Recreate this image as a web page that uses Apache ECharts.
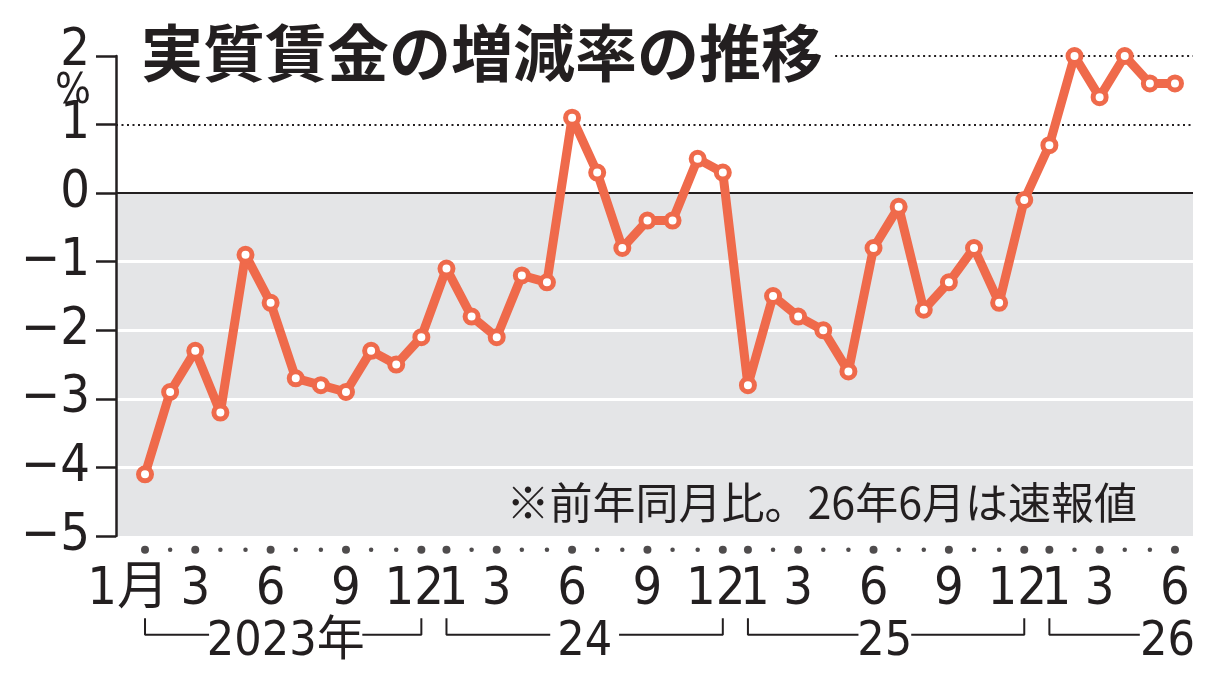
<!DOCTYPE html>
<html><head><meta charset="utf-8">
<script src="https://cdn.jsdelivr.net/npm/echarts@6/dist/echarts.min.js"></script>
<style>html,body{margin:0;padding:0;background:#fff}#c{width:1220px;height:680px}</style>
</head><body><div id="c"></div>
<script>
// ---- data ----
const monthLabels = ['1月','','3','','','6','','','9','','','12',
                     '1','','3','','','6','','','9','','','12',
                     '1','','3','','','6','','','9','','','12',
                     '1','','3','','','6'];
const values = [-4.1,-2.9,-2.3,-3.2,-0.9,-1.6,-2.7,-2.8,-2.9,-2.3,-2.5,-2.1,
                -1.1,-1.8,-2.1,-1.2,-1.3, 1.1, 0.3,-0.8,-0.4,-0.4, 0.5, 0.3,
                -2.8,-1.5,-1.8,-2.0,-2.6,-0.8,-0.2,-1.7,-1.3,-0.8,-1.6,-0.1,
                 0.7, 2.0, 1.4, 2.0, 1.6, 1.6];
const yearLabels = ['2023年','24','25','26'];
const yearStart = [0,12,24,36];
const yearEnd = [11,23,35,41];
const yearLabelX = [5.6,17.5,29.45,40.7];
const yearGapHalf = [3.05,1.37,1.05,1.1];
const titleText = '実質賃金の増減率の推移';
const noteText = '※前年同月比。26年6月は速報値';
const unitText = '%';

// ---- styling ----
const NUM_FONT = '"Liberation Sans Narrow","DejaVu Sans Condensed",Roboto,"Noto Sans CJK JP",sans-serif';
const INK = '#231F20';
const ORANGE = '#EF6A4B';
const X_MIN = -1.155, X_MAX = 41.717;
const Y_DOT = -5.2, Y_BR_TOP = -6.2, Y_BR = -6.44, Y_YEAR = -6.56;

const numStyle = {fontFamily: NUM_FONT, fontSize: 52, color: INK};

const lineData = values.map((v,i)=>[i,v]);
const labeledIdx = monthLabels.map((l,i)=> l ? i : -1).filter(i=>i>=0);
const dotData = monthLabels.map((l,i)=>({value:[i,Y_DOT], symbolSize: l ? 8 : 4.5}));

const bracketSeries = [];
yearLabels.forEach((y,k)=>{
  const s=yearStart[k], e=yearEnd[k], c=yearLabelX[k], h=yearGapHalf[k];
  const segs = [[[s,Y_BR_TOP],[s,Y_BR],[c-h,Y_BR]]];
  if (c+h < e) segs.push([[c+h,Y_BR],[e,Y_BR],[e,Y_BR_TOP]]);
  segs.forEach(seg=>bracketSeries.push({
    type:'line', data:seg, clip:false, symbol:'none', silent:true, z:3,
    lineStyle:{color:INK, width:2}
  }));
});

const chart = echarts.init(document.getElementById('c'));
chart.setOption({
  animation:false,
  backgroundColor:'#fff',
  title:[
    {text:titleText, left:136, top:17,
     textStyle:{fontFamily:'"Noto Sans CJK JP"', fontWeight:'bold', fontSize:62, color:INK}},
    {text:noteText, right:78, top:476,
     textStyle:{fontFamily:'"Noto Sans CJK JP"', fontWeight:'normal', fontSize:43, color:INK}}
  ],
  graphic:[
    {type:'text', right:1220-91, top:71, z:10,
     style:{text:unitText, fontFamily:NUM_FONT, fontSize:42, fill:INK}}
  ],
  grid:{left:116, right:27, top:56, bottom:144, containLabel:false, outerBoundsMode:'none'},
  xAxis:{
    type:'value', min:X_MIN, max:X_MAX,
    axisLine:{show:false}, axisTick:{show:false}, splitLine:{show:false},
    axisLabel:{
      customValues: labeledIdx, margin:28, ...numStyle,
      formatter: v => {
        const t = monthLabels[Math.round(v)];
        if (t === '1月') return '{a|1月}';
        if (t === '12') return '{l|12}';
        if (t === '1') return '{r|1}';
        return t;
      },
      rich:{
        a:{...numStyle, padding:[0,34,0,0]},
        l:{...numStyle, padding:[0,14,0,0]},
        r:{...numStyle, padding:[0,0,0,14]}
      }
    }
  },
  yAxis:{
    type:'value', min:-5, max:2, interval:1, z:6,
    axisLine:{show:true, onZero:false, lineStyle:{color:INK, width:2.5}},
    axisTick:{show:true, length:20, lineStyle:{color:INK, width:2.5}},
    splitLine:{show:false},
    axisLabel:{
      margin:26, ...numStyle,
      formatter: v => {
        if (v === 2) return '{t|2}';
        return v < 0 ? '\u2212' + Math.abs(v) : String(v);
      },
      rich:{t:{...numStyle, padding:[0,0,10,0]}}
    }
  },
  series:[
    {
      type:'line', data:[], z:1, silent:true,
      markArea:{silent:true, itemStyle:{color:'#E4E5E7'}, data:[[{yAxis:0},{yAxis:-5}]]},
      markLine:{
        silent:true, symbol:['none','none'], label:{show:false},
        data:[
          {yAxis:-1, lineStyle:{color:'#fff', width:3, type:'solid'}},
          {yAxis:-2, lineStyle:{color:'#fff', width:3, type:'solid'}},
          {yAxis:-3, lineStyle:{color:'#fff', width:3, type:'solid'}},
          {yAxis:-4, lineStyle:{color:'#fff', width:3, type:'solid'}},
          {yAxis:0, lineStyle:{color:INK, width:2, type:'solid'}},
          {yAxis:1, lineStyle:{color:INK, width:2, type:[2,3.5]}},
          [{coord:[27.47,2], lineStyle:{color:INK, width:2, type:[2,3.5]}},{coord:[X_MAX,2]}]
        ]
      }
    },
    {
      type:'line', data:lineData, z:5, clip:false,
      symbol:'circle', symbolSize:13,
      lineStyle:{color:ORANGE, width:9},
      itemStyle:{color:'#fff', borderColor:ORANGE, borderWidth:5}
    },
    {
      type:'scatter', data:dotData, clip:false, silent:true, z:3,
      itemStyle:{color:INK}
    },
    ...bracketSeries,
    {
      type:'scatter', clip:false, silent:true, z:3, symbolSize:1,
      itemStyle:{color:'#fff'},
      data: yearLabels.map((t,k)=>({name:t, value:[yearLabelX[k], Y_YEAR]})),
      label:{show:true, position:'top', distance:-24, formatter:'{b}',
             fontFamily:NUM_FONT, fontSize:48, color:INK, opacity:1}
    }
  ]
});
</script></body></html>
